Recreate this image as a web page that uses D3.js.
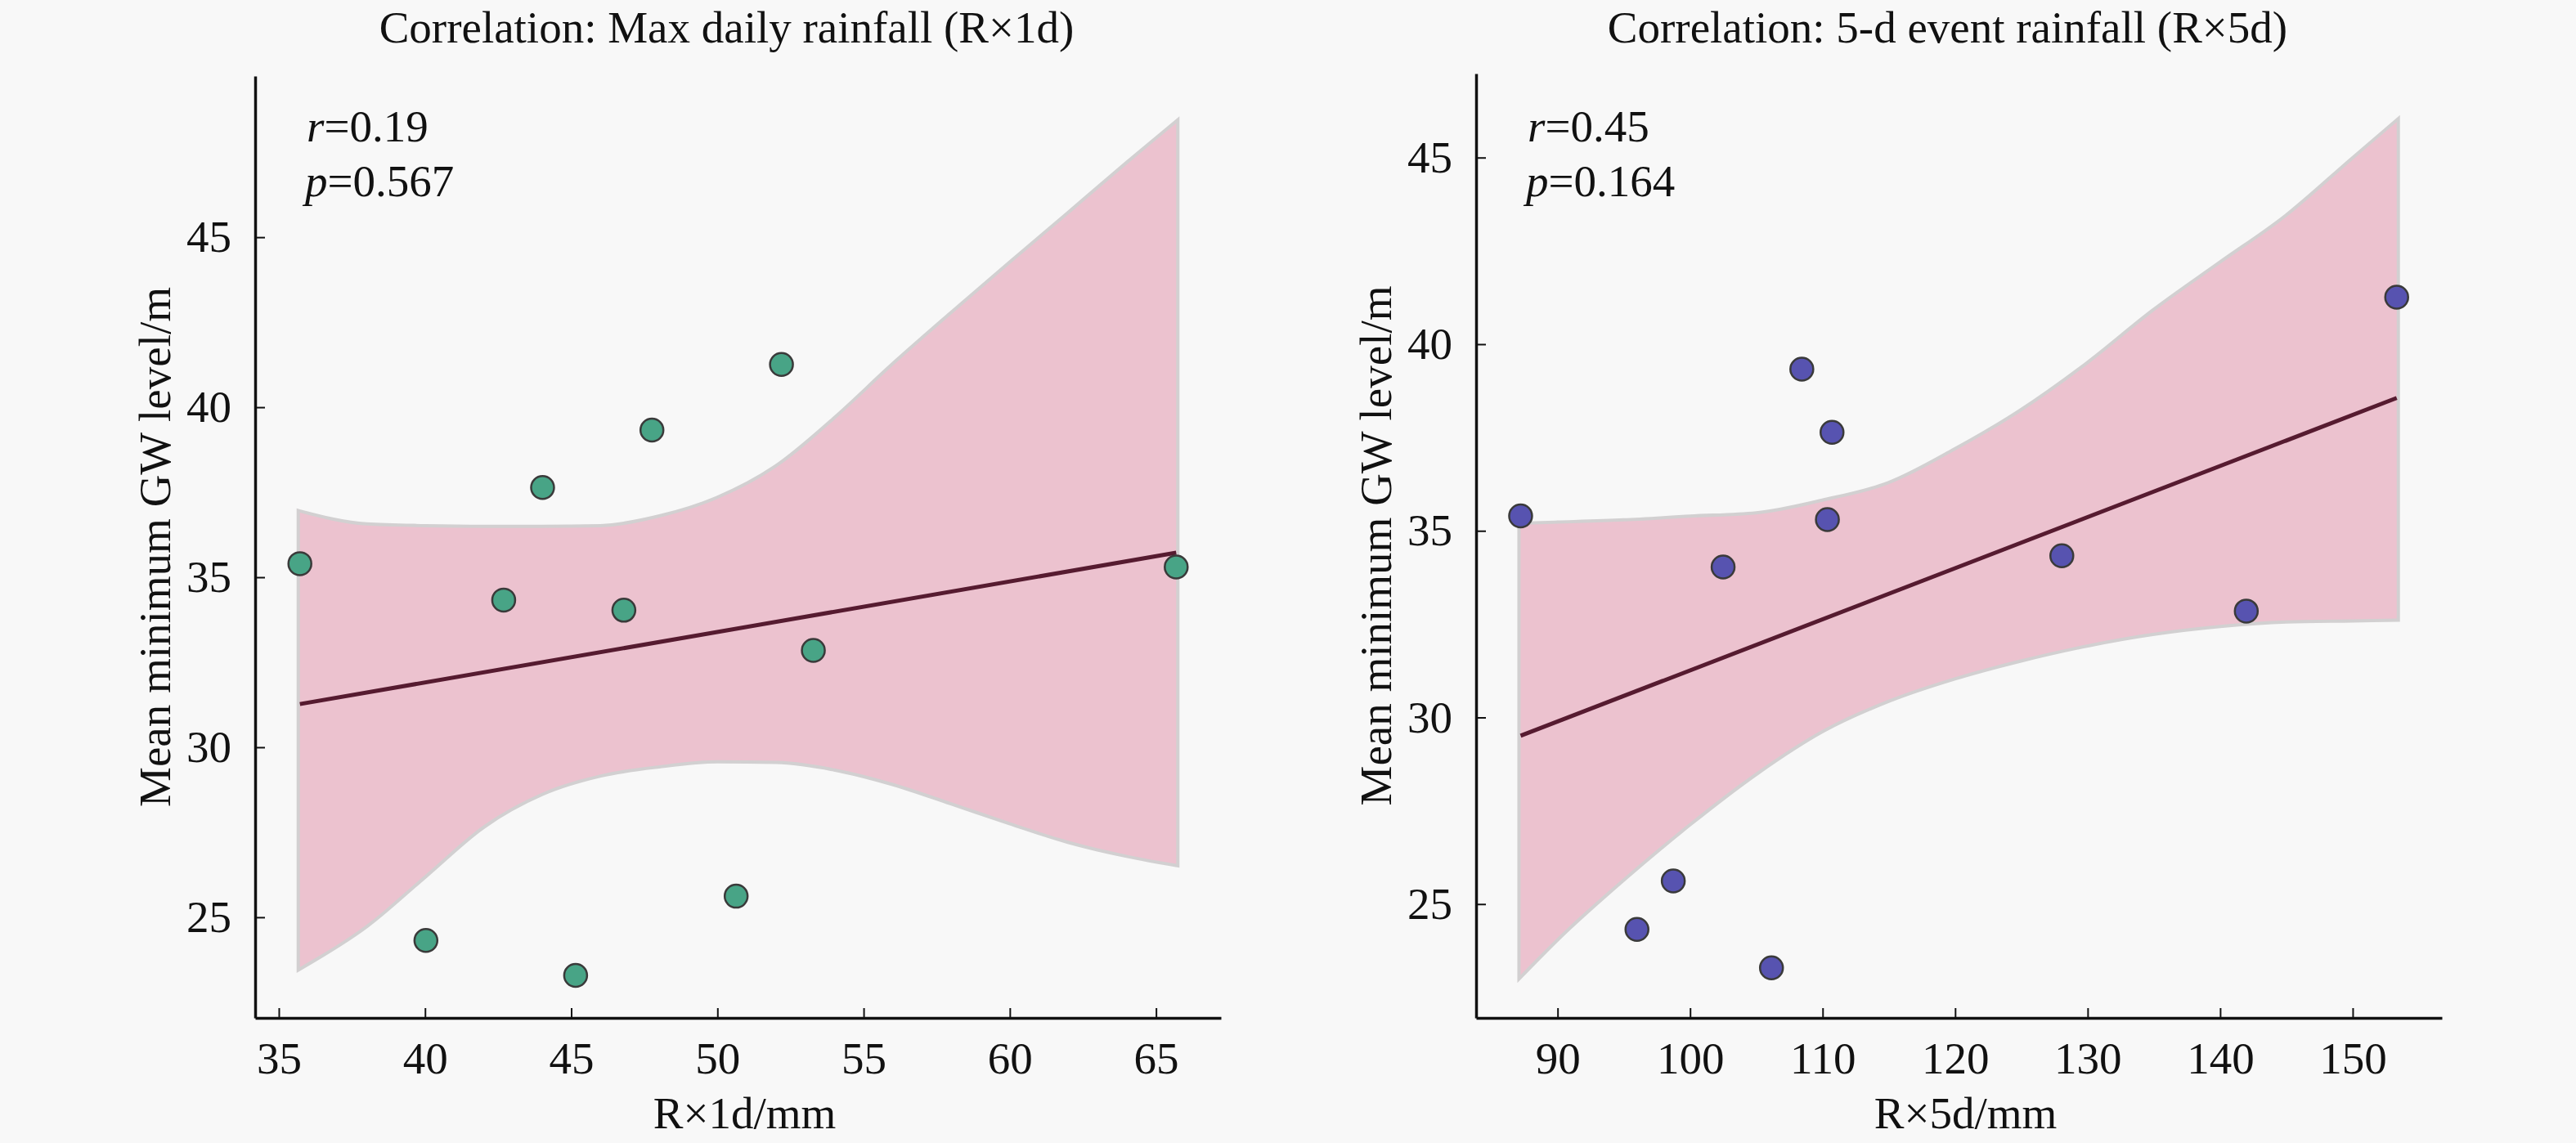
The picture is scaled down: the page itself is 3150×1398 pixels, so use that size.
<!DOCTYPE html>
<html>
<head>
<meta charset="utf-8">
<script src="https://cdn.jsdelivr.net/npm/d3@7/dist/d3.min.js"></script>
<style>
  body { margin: 0; background: #f8f8f8; }
  svg text { font-family: "Liberation Serif", "Tinos", "DejaVu Serif", serif; fill: #111; }
</style>
</head>
<body>
<svg id="chart" width="3150" height="1398"></svg>
<script>
// groundwater level (same stations / years in both panels)
var gwLevel = [35.40, 24.32, 34.33, 37.64, 23.29, 34.03, 39.33, 25.62, 41.26, 32.85, 35.30];
var rx1d = [35.72, 40.03, 42.69, 44.02, 45.15, 46.80, 47.76, 50.64, 52.19, 53.28, 65.69];
var rx5d = [87.21, 95.99, 128.05, 110.71, 106.14, 102.49, 108.43, 98.73, 153.32, 141.97, 110.36];

// fitted lines (end points)
var fit1x = [35.72, 65.69];
var fit1y = [31.27, 35.72];
var fit2x = [87.21, 153.32];
var fit2y = [29.51, 38.56];

// confidence bands
var band1x  = [35.72, 38, 40, 42, 44, 46, 48, 50, 52, 54, 56, 58, 60, 62, 64, 65.69];
var band1lo = [23.53, 24.78, 26.24, 27.70, 28.66, 29.20, 29.47, 29.62, 29.60, 29.38, 28.95, 28.38, 27.80, 27.25, 26.84, 26.57];
var band1hi = [36.90, 36.52, 36.47, 36.45, 36.45, 36.47, 36.75, 37.30, 38.22, 39.63, 41.22, 42.73, 44.21, 45.67, 47.14, 48.35];

var band2x  = [87.21, 90, 95, 100, 105, 110, 115, 120, 125, 130, 135, 140, 145, 150, 153.32];
var band2lo = [23.10, 24.10, 25.70, 27.18, 28.53, 29.67, 30.48, 31.08, 31.56, 31.96, 32.27, 32.48, 32.60, 32.63, 32.65];
var band2hi = [35.16, 35.19, 35.25, 35.35, 35.44, 35.78, 36.25, 37.15, 38.20, 39.46, 40.88, 42.15, 43.41, 44.94, 45.95];

var xTicks1 = [35, 40, 45, 50, 55, 60, 65];
var xTicks2 = [90, 100, 110, 120, 130, 140, 150];
var yTicks = [25, 30, 35, 40, 45];

var serif = "'Liberation Serif', 'Tinos', 'DejaVu Serif', serif";

var svg = d3.select("#chart");
svg.append("rect").attr("width", 3150).attr("height", 1398).attr("fill", "#f8f8f8");

function drawPanel(p) {
  var x = d3.scaleLinear().domain(p.xDomain).range([p.left, p.right]);
  var y = d3.scaleLinear().domain(p.yDomain).range([p.bottom, p.top]);
  var g = svg.append("g").attr("font-family", serif);

  // band
  var bandData = p.bx.map(function (d, i) { return { x: d, lo: p.blo[i], hi: p.bhi[i] }; });
  var area = d3.area()
    .x(function (d) { return x(d.x); })
    .y0(function (d) { return y(d.lo); })
    .y1(function (d) { return y(d.hi); })
    .curve(d3.curveMonotoneX);
  g.append("path").datum(bandData).attr("d", area)
    .attr("fill", "#ecc2cf").attr("stroke", "#d2d0d1").attr("stroke-width", 8);
  g.append("path").datum(bandData).attr("d", area).attr("fill", "#ecc2cf");

  // fit line
  var fitData = p.fx.map(function (d, i) { return [d, p.fy[i]]; });
  g.append("path").datum(fitData)
    .attr("d", d3.line().x(function (d) { return x(d[0]); }).y(function (d) { return y(d[1]); }))
    .attr("stroke", "#561b30").attr("stroke-width", 5).attr("fill", "none");

  // points
  g.selectAll("circle").data(p.xs).enter().append("circle")
    .attr("cx", function (d) { return x(d); })
    .attr("cy", function (d, i) { return y(gwLevel[i]); })
    .attr("r", 14)
    .attr("fill", p.color)
    .attr("stroke", "#3a3a3a")
    .attr("stroke-width", 2.5);

  // axes
  var xAxis = g.append("g").attr("transform", "translate(0," + p.bottom + ")")
    .call(d3.axisBottom(x).tickValues(p.xTicks).tickSizeInner(-12).tickSizeOuter(0).tickPadding(29));
  var yAxis = g.append("g").attr("transform", "translate(" + p.left + ",0)")
    .call(d3.axisLeft(y).tickValues(yTicks).tickSizeInner(-12).tickSizeOuter(0).tickPadding(29));
  [xAxis, yAxis].forEach(function (a) {
    a.attr("font-family", serif).attr("font-size", 55);
    a.select(".domain").attr("stroke", "#111").attr("stroke-width", 3.5);
    a.selectAll(".tick line").attr("stroke", "#111").attr("stroke-width", 2);
    a.selectAll(".tick text").attr("font-size", 55).attr("font-family", serif).attr("fill", "#111");
  });

  var cx = (p.left + p.right) / 2;
  g.append("text").attr("x", cx - 14).attr("y", 52).attr("text-anchor", "middle")
    .attr("font-size", 55).text(p.title);
  g.append("text").attr("x", cx + 8).attr("y", 1380).attr("text-anchor", "middle")
    .attr("font-size", 55).text(p.xLabel);
  g.append("text").attr("transform", "translate(" + (p.left - 104) + "," + ((p.top + p.bottom) / 2) + ") rotate(-90)")
    .attr("text-anchor", "middle").attr("font-size", 55).text("Mean minimum GW level/m");

  var rt = g.append("text").attr("x", p.left + 63).attr("y", 173).attr("font-size", 55);
  rt.append("tspan").attr("font-style", "italic").text("r");
  rt.append("tspan").text("=" + p.r);
  var pt = g.append("text").attr("x", p.left + 61).attr("y", 240).attr("font-size", 55);
  pt.append("tspan").attr("font-style", "italic").text("p");
  pt.append("tspan").text("=" + p.p);
}

drawPanel({
  left: 312, right: 1493, top: 93, bottom: 1245,
  xDomain: [34.19, 67.22], yDomain: [22.04, 49.74],
  xs: rx1d, fx: fit1x, fy: fit1y, bx: band1x, blo: band1lo, bhi: band1hi,
  xTicks: xTicks1, color: "#48a486",
  title: "Correlation: Max daily rainfall (R\u00d71d)", xLabel: "R\u00d71d/mm",
  r: "0.19", p: "0.567"
});

drawPanel({
  left: 1805, right: 2986, top: 90, bottom: 1245,
  xDomain: [83.85, 156.73], yDomain: [21.95, 47.25],
  xs: rx5d, fx: fit2x, fy: fit2y, bx: band2x, blo: band2lo, bhi: band2hi,
  xTicks: xTicks2, color: "#5753b0",
  title: "Correlation: 5-d event rainfall (R\u00d75d)", xLabel: "R\u00d75d/mm",
  r: "0.45", p: "0.164"
});
</script>
</body>
</html>
